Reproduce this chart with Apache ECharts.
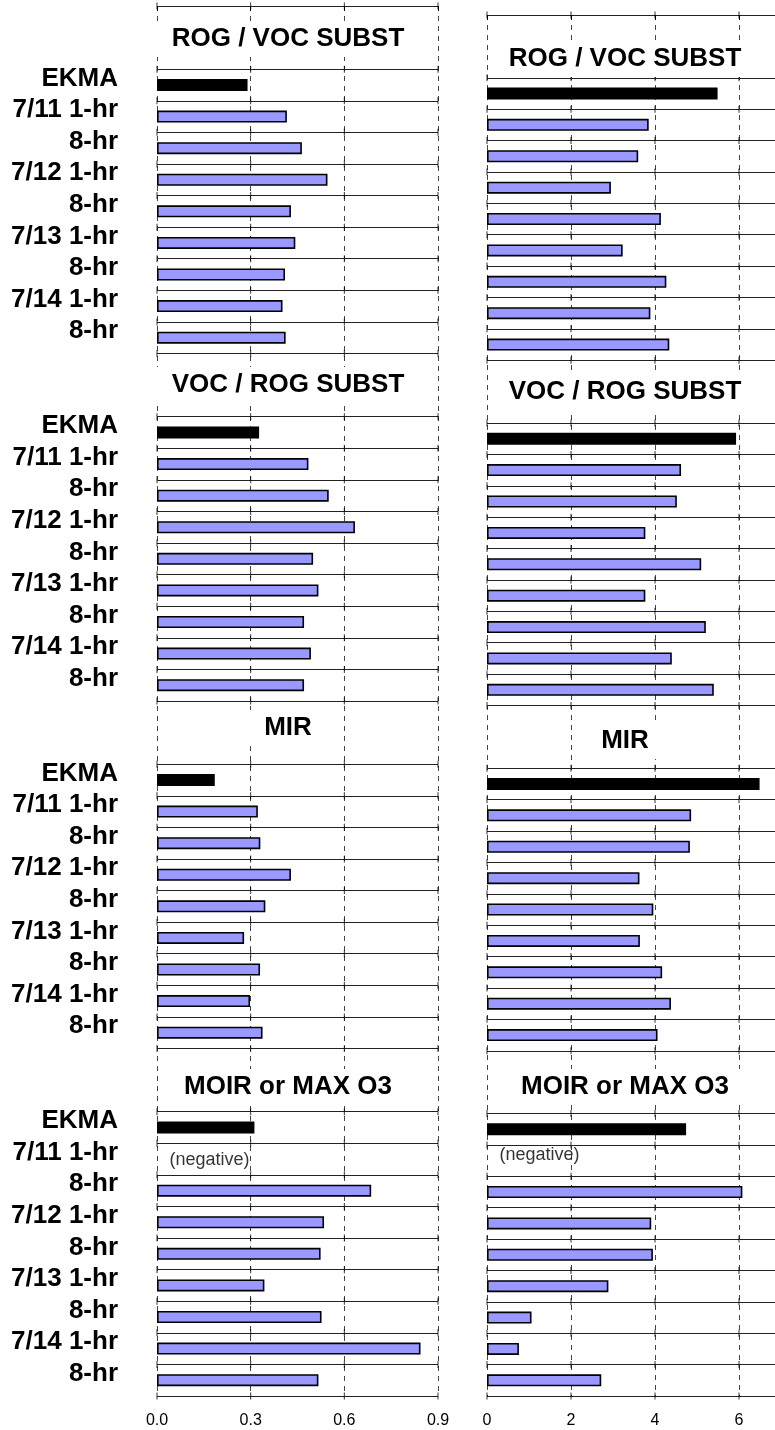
<!DOCTYPE html>
<html><head><meta charset="utf-8">
<script src="https://cdn.jsdelivr.net/npm/echarts@6/dist/echarts.min.js"></script>
<style>html,body{margin:0;padding:0;background:#fff}#c{width:775px;height:1430px}</style>
</head><body><div id="c"></div>
<script>
// ---- data ----
const rowLabels = ['EKMA', '7/11 1-hr', '8-hr', '7/12 1-hr', '8-hr', '7/13 1-hr', '8-hr', '7/14 1-hr', '8-hr'];
const panelTitles = ['ROG / VOC SUBST', 'VOC / ROG SUBST', 'MIR', 'MOIR or MAX O3'];
const leftRogVoc = [0.290, 0.416, 0.464, 0.546, 0.429, 0.443, 0.410, 0.402, 0.412];
const leftVocRog = [0.327, 0.485, 0.550, 0.634, 0.500, 0.517, 0.471, 0.493, 0.471];
const leftMir    = [0.185, 0.323, 0.331, 0.429, 0.347, 0.279, 0.330, 0.298, 0.338];
const leftMoir   = [0.312, null, 0.686, 0.535, 0.524, 0.344, 0.527, 0.844, 0.517];
const rightRogVoc = [5.49, 3.85, 3.60, 2.95, 4.14, 3.23, 4.27, 3.89, 4.34];
const rightVocRog = [5.93, 4.62, 4.52, 3.77, 5.10, 3.77, 5.21, 4.40, 5.40];
const rightMir    = [6.49, 4.86, 4.83, 3.63, 3.96, 3.64, 4.17, 4.38, 4.06];
const rightMoir   = [4.74, null, 6.08, 3.91, 3.95, 2.89, 1.06, 0.76, 2.72];
const leftTicks = [0, 0.3, 0.6, 0.9];
const rightTicks = [0, 2, 4, 6, 8];
const negativeNote = '(negative)';
const negativePanel = 3, negativeRow = 1;

// ---- build ----
const PANEL_ROWS = 11; // 2 title rows + 9 data rows
const NROWS = PANEL_ROWS * 4;
const categories = [];
for (let p = 0; p < 4; p++) { categories.push('', ''); rowLabels.forEach(l => categories.push(l)); }

function buildSeriesData(panels) {
  const ekma = new Array(NROWS).fill(null);
  const rest = new Array(NROWS).fill(null);
  panels.forEach((vals, p) => {
    vals.forEach((v, i) => {
      const idx = p * PANEL_ROWS + 2 + i;
      if (i === 0) ekma[idx] = v; else rest[idx] = v;
    });
  });
  return { ekma, rest };
}
function buildCrossTicks(ticks) {
  const out = [];
  for (let b = 0; b <= NROWS; b++) {
    if (b % PANEL_ROWS === 1) continue;
    ticks.forEach(t => out.push([t, b]));
  }
  return out;
}
const L = buildSeriesData([leftRogVoc, leftVocRog, leftMir, leftMoir]);
const R = buildSeriesData([rightRogVoc, rightVocRog, rightMir, rightMoir]);
const negIdx = negativePanel * PANEL_ROWS + 2 + negativeRow;

const FONT = '"Liberation Sans", Arial, sans-serif';
const splitInterval = (i) => i % PANEL_ROWS !== 1;

function xAxisFor(gridIndex, max, interval, fmt) {
  return {
    type: 'value', gridIndex, min: 0, max, interval,
    axisLine: { show: false },
    axisTick: { show: true, length: 5, lineStyle: { color: '#000', width: 1 } },
    axisLabel: { color: '#000', fontSize: 16, fontFamily: FONT, margin: 17, formatter: fmt },
    splitLine: { show: true, lineStyle: { color: '#444', width: 1, type: [5, 5] } }
  };
}
function catAxisFor(gridIndex, showLabels) {
  return {
    type: 'category', gridIndex, data: categories, inverse: true,
    axisLine: { show: false }, axisTick: { show: false },
    axisLabel: showLabels ? {
      show: true, interval: 0, color: '#000', fontSize: 26, fontWeight: 'bold', fontFamily: FONT,
      margin: 39, verticalAlign: 'bottom', lineHeight: 13
    } : { show: false },
    splitLine: { show: true, interval: splitInterval, lineStyle: { color: '#222', width: 1 } }
  };
}
function valAxisFor(gridIndex) {
  return { type: 'value', gridIndex, min: 0, max: NROWS, inverse: true, show: false,
    splitLine: { show: false } };
}
function barSeries(xi, yi, data, color) {
  return {
    type: 'bar', xAxisIndex: xi, yAxisIndex: yi, data, barWidth: 12, barGap: '-100%',
    itemStyle: { color, borderColor: '#000', borderWidth: 1.6 }, silent: true, animation: false
  };
}
function tickSeries(xi, yi, ticks) {
  return {
    type: 'scatter', xAxisIndex: xi, yAxisIndex: yi, data: buildCrossTicks(ticks),
    symbol: 'rect', symbolSize: [1, 7], itemStyle: { color: '#000' }, silent: true, animation: false, z: 3
  };
}
function noteSeries(xi, yi, offsetY) {
  return {
    type: 'scatter', xAxisIndex: xi, yAxisIndex: yi, data: [[0, negIdx]],
    symbolSize: 1, itemStyle: { color: 'rgba(0,0,0,0)' }, silent: true, animation: false,
    label: { show: true, position: 'right', distance: 12, formatter: negativeNote,
      color: '#000', fontSize: 18, fontFamily: FONT, offset: [0, offsetY] }
  };
}

const titlePos = [
  [288, 39], [288, 385], [288, 728], [288, 1087],
  [625, 59], [625, 392], [625, 741], [625, 1087]
];
const graphics = titlePos.map((pos, i) => ({
  type: 'text', x: pos[0], y: pos[1], z: 50,
  style: { text: panelTitles[i % 4], align: 'center', verticalAlign: 'middle',
    font: 'bold 26px ' + FONT, fill: '#000', backgroundColor: '#fff', padding: [5, 16] }
}));

const option = {
  animation: false,
  backgroundColor: '#fff',
  grid: [
    { left: 157, top: 6, width: 281, height: 1390, outerBoundsMode: 'none', containLabel: false },
    { left: 487, top: 15, width: 336, height: 1381, outerBoundsMode: 'none', containLabel: false }
  ],
  xAxis: [
    xAxisFor(0, 0.9, 0.3, v => v.toFixed(1)),
    xAxisFor(1, 8, 2, v => String(v))
  ],
  yAxis: [catAxisFor(0, true), valAxisFor(0), catAxisFor(1, false), valAxisFor(1)],
  series: [
    barSeries(0, 0, L.ekma, '#000'),
    barSeries(0, 0, L.rest, '#9999ff'),
    tickSeries(0, 1, leftTicks),
    noteSeries(0, 0, 1),
    barSeries(1, 2, R.ekma, '#000'),
    barSeries(1, 2, R.rest, '#9999ff'),
    tickSeries(1, 3, rightTicks),
    noteSeries(1, 2, -6)
  ],
  graphic: graphics
};
const chart = echarts.init(document.getElementById('c'), null, { renderer: 'canvas' });
chart.setOption(option);
</script>
</body></html>
